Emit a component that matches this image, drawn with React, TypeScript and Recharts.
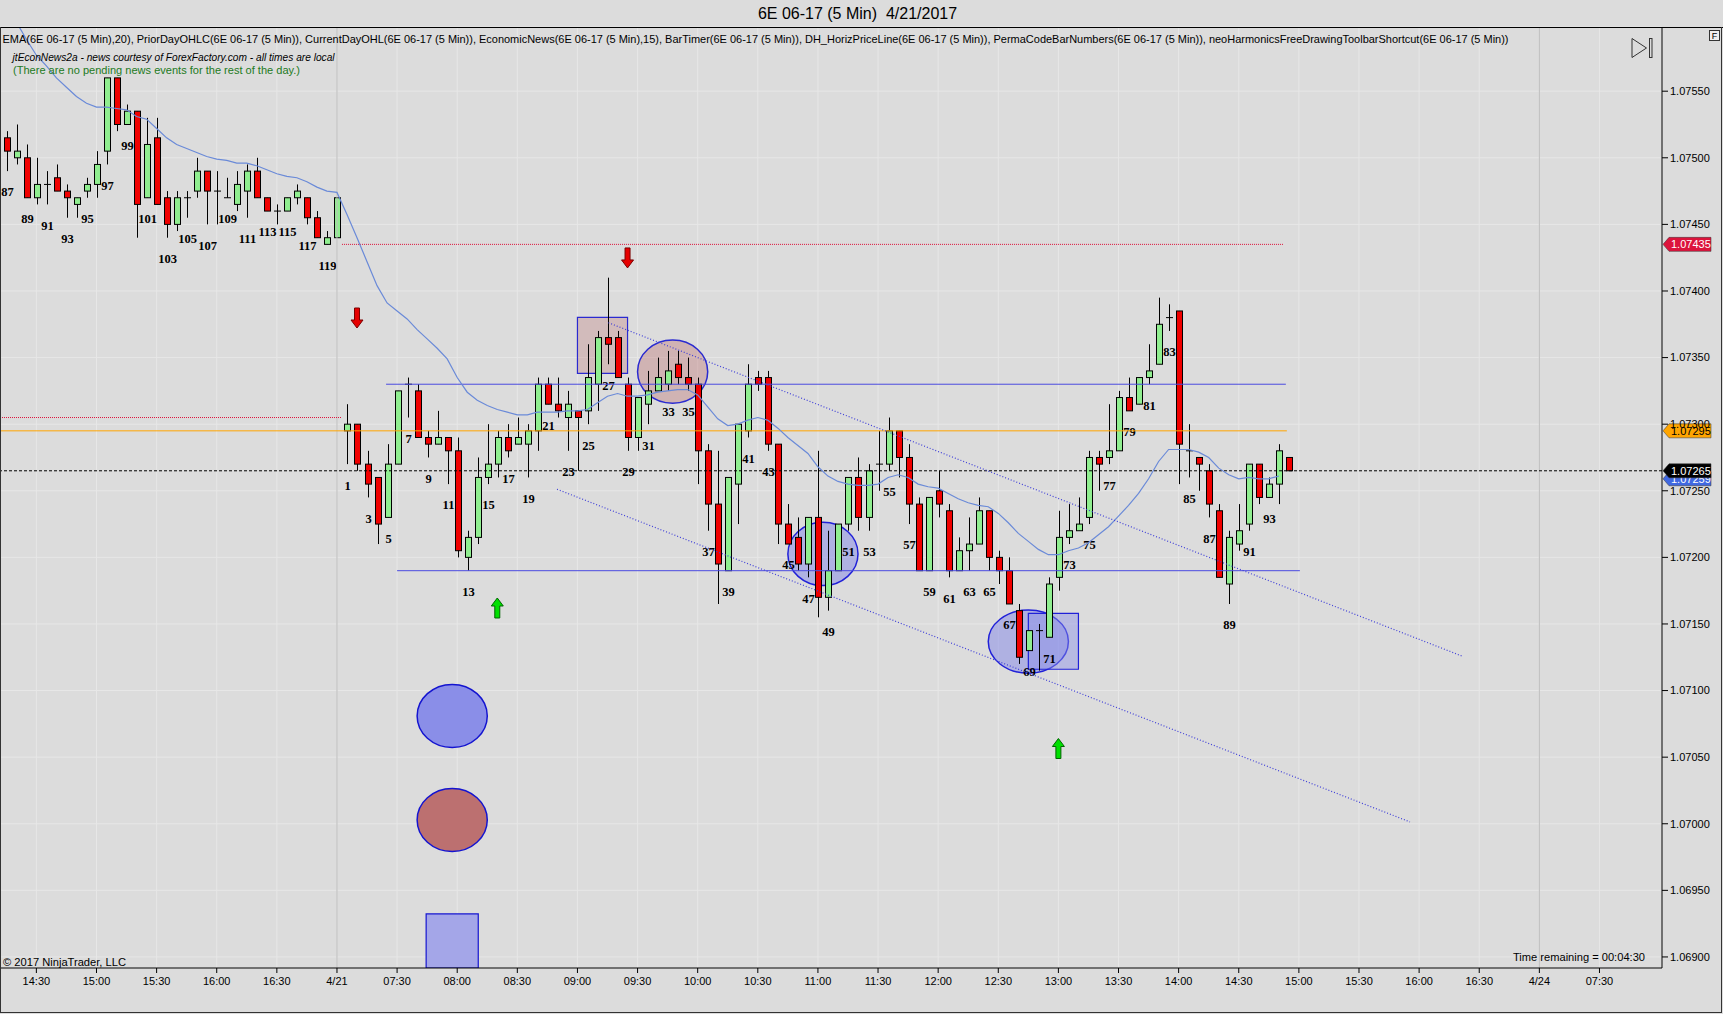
import React from 'react';
import {
  ComposedChart, Bar, Line, XAxis, YAxis, CartesianGrid,
  ReferenceLine, ReferenceArea, ReferenceDot,
} from 'recharts';

// ---------- bar numbers (prior session 87..120, then 4/21 session 1..95) ----------
const barNumbers = [
  87, 88, 89, 90, 91, 92, 93, 94, 95, 96, 97, 98, 99, 100, 101, 102, 103, 104, 105, 106,
  107, 108, 109, 110, 111, 112, 113, 114, 115, 116, 117, 118, 119, 120,
  1, 2, 3, 4, 5, 6, 7, 8, 9, 10, 11, 12, 13, 14, 15, 16, 17, 18, 19, 20,
  21, 22, 23, 24, 25, 26, 27, 28, 29, 30, 31, 32, 33, 34, 35, 36, 37, 38, 39, 40,
  41, 42, 43, 44, 45, 46, 47, 48, 49, 50, 51, 52, 53, 54, 55, 56, 57, 58, 59, 60,
  61, 62, 63, 64, 65, 66, 67, 68, 69, 70, 71, 72, 73, 74, 75, 76, 77, 78, 79, 80,
  81, 82, 83, 84, 85, 86, 87, 88, 89, 90, 91, 92, 93, 94, 95,
];

const opens = [
  1.07515, 1.07500, 1.07500, 1.07470, 1.07480, 1.07485, 1.07475, 1.07465, 1.07475, 1.07480,
  1.07505, 1.07560, 1.07525, 1.07535, 1.07470, 1.07515, 1.07470, 1.07450, 1.07470, 1.07475,
  1.07490, 1.07475, 1.07470, 1.07465, 1.07475, 1.07490, 1.07470, 1.07460, 1.07460, 1.07470,
  1.07470, 1.07455, 1.07435, 1.07440,
  1.07295, 1.07300, 1.07270, 1.07260, 1.07230, 1.07270, 1.07330, 1.07325, 1.07290, 1.07285,
  1.07290, 1.07280, 1.07200, 1.07215, 1.07260, 1.07270, 1.07290, 1.07285, 1.07285, 1.07295,
  1.07330, 1.07315, 1.07305, 1.07310, 1.07310, 1.07330, 1.07365, 1.07365, 1.07330, 1.07290,
  1.07315, 1.07325, 1.07330, 1.07345, 1.07335, 1.07330, 1.07280, 1.07240, 1.07190, 1.07255,
  1.07295, 1.07335, 1.07335, 1.07285, 1.07225, 1.07215, 1.07195, 1.07230, 1.07170, 1.07190,
  1.07225, 1.07260, 1.07230, 1.07270, 1.07270, 1.07295, 1.07275, 1.07240, 1.07190, 1.07250,
  1.07235, 1.07190, 1.07205, 1.07210, 1.07235, 1.07200, 1.07190, 1.07160, 1.07130, 1.07145,
  1.07140, 1.07185, 1.07215, 1.07220, 1.07230, 1.07275, 1.07275, 1.07280, 1.07320, 1.07315,
  1.07335, 1.07345, 1.07380, 1.07385, 1.07280, 1.07275, 1.07265, 1.07235, 1.07180, 1.07210,
  1.07225, 1.07270, 1.07245, 1.07255, 1.07275,
];

const highs = [
  1.07520, 1.07525, 1.07510, 1.07500, 1.07490, 1.07495, 1.07480, 1.07470, 1.07485, 1.07505,
  1.07560, 1.07560, 1.07540, 1.07535, 1.07530, 1.07530, 1.07475, 1.07475, 1.07475, 1.07500,
  1.07490, 1.07490, 1.07485, 1.07490, 1.07495, 1.07500, 1.07470, 1.07465, 1.07470, 1.07480,
  1.07470, 1.07460, 1.07445, 1.07470,
  1.07315, 1.07300, 1.07280, 1.07260, 1.07285, 1.07325, 1.07335, 1.07330, 1.07295, 1.07310,
  1.07290, 1.07290, 1.07220, 1.07275, 1.07300, 1.07295, 1.07300, 1.07305, 1.07300, 1.07335,
  1.07335, 1.07335, 1.07325, 1.07310, 1.07360, 1.07370, 1.07410, 1.07370, 1.07335, 1.07320,
  1.07340, 1.07350, 1.07355, 1.07355, 1.07350, 1.07335, 1.07285, 1.07280, 1.07260, 1.07300,
  1.07345, 1.07340, 1.07340, 1.07285, 1.07240, 1.07230, 1.07230, 1.07280, 1.07220, 1.07225,
  1.07260, 1.07275, 1.07270, 1.07295, 1.07305, 1.07295, 1.07285, 1.07245, 1.07245, 1.07265,
  1.07240, 1.07215, 1.07230, 1.07245, 1.07235, 1.07205, 1.07200, 1.07165, 1.07145, 1.07150,
  1.07185, 1.07235, 1.07240, 1.07245, 1.07280, 1.07280, 1.07315, 1.07325, 1.07335, 1.07335,
  1.07360, 1.07395, 1.07390, 1.07385, 1.07300, 1.07275, 1.07270, 1.07240, 1.07220, 1.07240,
  1.07270, 1.07270, 1.07260, 1.07285, 1.07275,
];

const lows = [
  1.07490, 1.07495, 1.07470, 1.07465, 1.07465, 1.07475, 1.07455, 1.07455, 1.07470, 1.07470,
  1.07495, 1.07520, 1.07525, 1.07440, 1.07470, 1.07465, 1.07440, 1.07445, 1.07455, 1.07470,
  1.07450, 1.07450, 1.07470, 1.07460, 1.07455, 1.07470, 1.07460, 1.07450, 1.07460, 1.07465,
  1.07450, 1.07440, 1.07435, 1.07440,
  1.07270, 1.07265, 1.07245, 1.07210, 1.07230, 1.07270, 1.07305, 1.07290, 1.07275, 1.07285,
  1.07255, 1.07200, 1.07190, 1.07210, 1.07255, 1.07260, 1.07275, 1.07285, 1.07260, 1.07280,
  1.07315, 1.07305, 1.07280, 1.07265, 1.07300, 1.07310, 1.07345, 1.07335, 1.07280, 1.07280,
  1.07300, 1.07325, 1.07325, 1.07330, 1.07325, 1.07255, 1.07220, 1.07165, 1.07190, 1.07225,
  1.07290, 1.07325, 1.07280, 1.07210, 1.07210, 1.07190, 1.07185, 1.07155, 1.07160, 1.07190,
  1.07220, 1.07220, 1.07220, 1.07250, 1.07265, 1.07260, 1.07225, 1.07190, 1.07190, 1.07230,
  1.07185, 1.07190, 1.07190, 1.07210, 1.07190, 1.07180, 1.07165, 1.07120, 1.07130, 1.07115,
  1.07140, 1.07175, 1.07210, 1.07220, 1.07225, 1.07250, 1.07270, 1.07280, 1.07310, 1.07315,
  1.07330, 1.07345, 1.07370, 1.07255, 1.07260, 1.07250, 1.07230, 1.07185, 1.07165, 1.07205,
  1.07220, 1.07240, 1.07245, 1.07240, 1.07265,
];

const closes = [
  1.07505, 1.07505, 1.07470, 1.07480, 1.07480, 1.07475, 1.07470, 1.07470, 1.07480, 1.07495,
  1.07560, 1.07525, 1.07535, 1.07465, 1.07510, 1.07465, 1.07450, 1.07470, 1.07470, 1.07490,
  1.07475, 1.07475, 1.07470, 1.07480, 1.07490, 1.07470, 1.07460, 1.07460, 1.07470, 1.07475,
  1.07455, 1.07440, 1.07440, 1.07470,
  1.07300, 1.07270, 1.07255, 1.07225, 1.07270, 1.07325, 1.07330, 1.07290, 1.07285, 1.07290,
  1.07280, 1.07205, 1.07215, 1.07260, 1.07270, 1.07290, 1.07280, 1.07290, 1.07295, 1.07330,
  1.07315, 1.07310, 1.07315, 1.07305, 1.07335, 1.07365, 1.07360, 1.07335, 1.07290, 1.07320,
  1.07325, 1.07335, 1.07340, 1.07335, 1.07330, 1.07280, 1.07240, 1.07195, 1.07260, 1.07300,
  1.07330, 1.07330, 1.07285, 1.07225, 1.07210, 1.07195, 1.07230, 1.07170, 1.07190, 1.07225,
  1.07260, 1.07230, 1.07265, 1.07270, 1.07295, 1.07275, 1.07240, 1.07190, 1.07245, 1.07240,
  1.07190, 1.07205, 1.07210, 1.07235, 1.07200, 1.07190, 1.07165, 1.07125, 1.07145, 1.07145,
  1.07180, 1.07215, 1.07220, 1.07225, 1.07275, 1.07270, 1.07280, 1.07320, 1.07310, 1.07335,
  1.07340, 1.07375, 1.07380, 1.07285, 1.07280, 1.07270, 1.07240, 1.07185, 1.07215, 1.07220,
  1.07270, 1.07245, 1.07255, 1.07280, 1.07265,
];

// EMA(20)
const ema20 = [
  1.07610, 1.07602, 1.07589, 1.07577, 1.07569, 1.07560, 1.07553, 1.07546, 1.07541, 1.07538,
  1.07538, 1.07537, 1.07536, 1.07531, 1.07529, 1.07522, 1.07515, 1.07510, 1.07507, 1.07504,
  1.07501, 1.07499, 1.07498, 1.07496, 1.07496, 1.07494, 1.07491, 1.07488, 1.07486, 1.07485,
  1.07482, 1.07478, 1.07475, 1.07474,
  1.074575, 1.07440, 1.07422, 1.07404, 1.07391, 1.07385, 1.07379, 1.07371, 1.07364, 1.07357,
  1.07349, 1.07335, 1.07324, 1.07318, 1.07314, 1.07311, 1.07309, 1.07307, 1.07307, 1.07309,
  1.07309, 1.07309, 1.07310, 1.07310, 1.07311, 1.07316, 1.07321, 1.07323, 1.07321, 1.07321,
  1.07322, 1.07324, 1.07325, 1.07326, 1.07326, 1.07322, 1.07313, 1.07304, 1.07299, 1.07300,
  1.07303, 1.07305, 1.07303, 1.07297, 1.07290, 1.07284, 1.07278, 1.07268, 1.07261, 1.07257,
  1.07255, 1.07254, 1.07254, 1.07255, 1.07260, 1.07262, 1.07260, 1.07255, 1.07253, 1.07252,
  1.07248, 1.07244, 1.07241, 1.07239, 1.07238, 1.07233, 1.07226, 1.07218, 1.07212, 1.07206,
  1.07202, 1.07202, 1.07205, 1.07207, 1.07211, 1.07217, 1.07223, 1.07231, 1.07239, 1.07248,
  1.07259, 1.07272, 1.07281, 1.07281, 1.07281, 1.07279, 1.07275, 1.07267, 1.07262, 1.07259,
  1.07260, 1.07259, 1.07259, 1.07261, null,
];

// ---------- axes ----------
const timeTickSlots = [3, 9, 15, 21, 27, 33, 39, 45, 51, 57, 63, 69, 75, 81, 87, 93, 99, 105, 111, 117, 123, 129, 135, 141, 147, 153, 159];
const timeTickLabels = ['14:30', '15:00', '15:30', '16:00', '16:30', '4/21', '07:30', '08:00', '08:30', '09:00', '09:30', '10:00', '10:30', '11:00', '11:30', '12:00', '12:30', '13:00', '13:30', '14:00', '14:30', '15:00', '15:30', '16:00', '16:30', '4/24', '07:30'];
const priceTicks = [1.069, 1.0695, 1.07, 1.0705, 1.071, 1.0715, 1.072, 1.0725, 1.073, 1.0735, 1.074, 1.0745, 1.075, 1.0755];
const sessionBreakSlots = [33, 153];

const X_DOMAIN = [-0.63, 165.24];
const Y_DOMAIN = [1.068917, 1.075982];

// ---------- drawing objects (data coordinates) ----------
const priorLevels = [1.07435, 1.07305];        // red dotted
const priorLevelSpans = [[33.5, 127.5], [-0.63, 33.5]];
const openLevel = 1.07295;                      // orange
const openLevelSpan = [-0.63, 127.8];
const lastPrice = 1.07265;                      // black dashed
const emaLast = 1.07259;
const horizPrices = [1.07330, 1.07190];         // DH horizontal lines
const horizSpans = [[37.9, 127.7], [39.0, 129.1]];
const trendStarts = [[60.08, 1.073762], [54.96, 1.0725115]];
const trendEnds = [[145.24, 1.07126], [140.09, 1.0700135]];

const roseRects = [[57, 62, 1.073382, 1.0738025]];
const roseEllipses = [[63, 70, 1.073157, 1.073632]];
const blueEllipses = [[78, 85, 1.071788, 1.072264], [98, 106, 1.07113, 1.071605]];
const blueRects = [[102, 107, 1.07116, 1.07158]];
const toolEllipseBlue = [41, 48, 1.070573, 1.071046];
const toolEllipseRose = [41, 48, 1.069792, 1.070265];
const toolRect = [41.9, 47.1, 1.068917, 1.069323];

const arrowSlots = [35, 62, 49, 105];
const arrowPrices = [1.073722, 1.074173, 1.071695, 1.07064];
const arrowDirs = ['down', 'down', 'up', 'up'];

const rows = barNumbers.map((num, i) => ({
  slot: i,
  num,
  o: opens[i],
  h: highs[i],
  l: lows[i],
  c: closes[i],
  range: [lows[i], highs[i]],
  ema: ema20[i],
}));
const lastSlot = rows.length - 1;
const tickLabelOf: Record<number, string> = {};
timeTickSlots.forEach((s, i) => { tickLabelOf[s] = timeTickLabels[i]; });

const FONT = 'Liberation Sans, Arial, sans-serif';

const Candle = (props: any) => {
  const { x, y, width, height, payload } = props;
  if (!payload) return null;
  const { o, h, l, c, num, slot } = payload;
  const cx = Math.round(x + width / 2) + 0.5;
  const py = (v: number) => (h === l ? y : y + ((h - v) / (h - l)) * height);
  const top = py(Math.max(o, c));
  const bot = py(Math.min(o, c));
  const up = c > o;
  const flat = c === o;
  const lowY = y + height;
  return (
    <g>
      <line x1={cx} x2={cx} y1={y} y2={lowY} stroke="#000" strokeWidth={1} />
      {flat ? (
        <line x1={cx - 3.5} x2={cx + 3.5} y1={top} y2={top} stroke="#000" strokeWidth={1} />
      ) : (
        <rect x={cx - 3} y={top} width={6} height={Math.max(bot - top, 1)}
          fill={up ? '#90ee90' : '#f00000'} stroke="#000" strokeWidth={1} />
      )}
      {num % 2 === 1 && slot !== lastSlot && (
        <text x={cx} y={lowY + 21} dy="0.35em" textAnchor="middle"
          fontFamily="Liberation Serif, Times New Roman, serif" fontWeight="bold" fontSize={12.5} fill="#000">
          {num}
        </text>
      )}
    </g>
  );
};

const ellipseShape = (p: any) => (
  <ellipse cx={p.x + p.width / 2} cy={p.y + p.height / 2} rx={p.width / 2} ry={p.height / 2}
    fill={p.fill} fillOpacity={p.fillOpacity} stroke={p.stroke} strokeWidth={p.strokeWidth} />
);

const arrowShape = (dir: string) => (p: any) => {
  const { cx, cy } = p;
  const sgn = dir === 'down' ? -1 : 1;
  const pts = [[-2.5, 20], [2.5, 20], [2.5, 8], [6, 8], [0, 0], [-6, 8], [-2.5, 8]]
    .map(([dx, dy]) => `${cx + dx},${cy + sgn * dy}`).join(' ');
  const red = dir === 'down';
  return <polygon points={pts} fill={red ? '#e60000' : '#00e000'} stroke={red ? '#7a0000' : '#006400'} strokeWidth={1} />;
};

const tagShape = (fill: string, color: string, price: number) => (p: any) => {
  const { cx, cy } = p;
  const x0 = cx;
  return (
    <g>
      <polygon
        points={`${x0 + 1},${cy} ${x0 + 7},${cy - 7} ${x0 + 49},${cy - 7} ${x0 + 49},${cy + 7} ${x0 + 7},${cy + 7}`}
        fill={fill} stroke="#333" strokeWidth={0.5} />
      <text x={x0 + 9} y={cy + 4} fontSize={11} fill={color} fontFamily={FONT}>{price.toFixed(5)}</text>
    </g>
  );
};

export default function App() {
  return (
    <div style={{ position: 'absolute', left: 0, top: 0, width: 1723, height: 1014, background: '#dcdcdc', overflow: 'hidden', fontFamily: FONT }}>
      <ComposedChart width={1723} height={1014} data={rows} margin={{ top: 27, right: 0, bottom: 0, left: 0 }}>
        <CartesianGrid stroke="#e7e7e7" strokeWidth={1} />
        <XAxis dataKey="slot" type="number" domain={X_DOMAIN} allowDataOverflow ticks={timeTickSlots} interval={0}
          tickFormatter={(v: number) => tickLabelOf[v] ?? ''} height={46} tickSize={5} tickMargin={4}
          axisLine={{ stroke: '#000' }} tickLine={{ stroke: '#000' }} tick={{ fontSize: 11, fill: '#000' }} />
        <YAxis orientation="right" type="number" domain={Y_DOMAIN} allowDataOverflow ticks={priceTicks} interval={0}
          tickFormatter={(v: number) => v.toFixed(5)} width={61} tickSize={6} tickMargin={2}
          axisLine={{ stroke: '#000' }} tickLine={{ stroke: '#000' }} tick={{ fontSize: 11, fill: '#000' }} />

        {sessionBreakSlots.map((s) => (
          <ReferenceLine key={'sb' + s} x={s} stroke="#bdbdbd" strokeWidth={1} ifOverflow="hidden" />
        ))}
        {priorLevels.map((p, i) => (
          <ReferenceLine key={'pl' + i} segment={[{ x: priorLevelSpans[i][0], y: p }, { x: priorLevelSpans[i][1], y: p }]}
            stroke="#dc143c" strokeWidth={1} strokeDasharray="1 1" ifOverflow="hidden" />
        ))}
        <ReferenceLine segment={[{ x: openLevelSpan[0], y: openLevel }, { x: openLevelSpan[1], y: openLevel }]}
          stroke="#ffa500" strokeWidth={1} ifOverflow="hidden" />
        {horizPrices.map((p, i) => (
          <ReferenceLine key={'hp' + i} segment={[{ x: horizSpans[i][0], y: p }, { x: horizSpans[i][1], y: p }]}
            stroke="#4b4be0" strokeWidth={1} ifOverflow="hidden" />
        ))}
        <ReferenceLine y={lastPrice} stroke="#000" strokeWidth={1} strokeDasharray="3 2" ifOverflow="hidden" />

        <Bar dataKey="range" barSize={7} shape={<Candle />} isAnimationActive={false} />
        <Line dataKey="ema" type="linear" stroke="#6a8ad8" strokeWidth={1.2} dot={false} activeDot={false}
          isAnimationActive={false} connectNulls={false} />

        {roseRects.map((r, i) => (
          <ReferenceArea key={'rr' + i} x1={r[0]} x2={r[1]} y1={r[2]} y2={r[3]} ifOverflow="hidden"
            fill="#bc7070" fillOpacity={0.3} stroke="#2a2ad0" strokeWidth={1.2} />
        ))}
        {roseEllipses.map((r, i) => (
          <ReferenceArea key={'re' + i} x1={r[0]} x2={r[1]} y1={r[2]} y2={r[3]} ifOverflow="hidden"
            fill="#bc7070" fillOpacity={0.38} stroke="#2a2ad0" strokeWidth={1.5} shape={ellipseShape} />
        ))}
        {blueEllipses.map((r, i) => (
          <ReferenceArea key={'be' + i} x1={r[0]} x2={r[1]} y1={r[2]} y2={r[3]} ifOverflow="hidden"
            fill="#8a8ee8" fillOpacity={0.55} stroke="#2020d8" strokeWidth={1.5} shape={ellipseShape} />
        ))}
        {blueRects.map((r, i) => (
          <ReferenceArea key={'br' + i} x1={r[0]} x2={r[1]} y1={r[2]} y2={r[3]} ifOverflow="hidden"
            fill="#8a8ee8" fillOpacity={0.45} stroke="#2020d8" strokeWidth={1.2} />
        ))}
        <ReferenceArea x1={toolEllipseBlue[0]} x2={toolEllipseBlue[1]} y1={toolEllipseBlue[2]} y2={toolEllipseBlue[3]}
          ifOverflow="hidden" fill="#8a8ee8" fillOpacity={1} stroke="#1414d0" strokeWidth={1.5} shape={ellipseShape} />
        <ReferenceArea x1={toolEllipseRose[0]} x2={toolEllipseRose[1]} y1={toolEllipseRose[2]} y2={toolEllipseRose[3]}
          ifOverflow="hidden" fill="#bc7070" fillOpacity={1} stroke="#1414d0" strokeWidth={1.5} shape={ellipseShape} />
        <ReferenceArea x1={toolRect[0]} x2={toolRect[1]} y1={toolRect[2]} y2={toolRect[3]}
          ifOverflow="hidden" fill="#a4a6e8" fillOpacity={1} stroke="#1414d0" strokeWidth={1.2} />

        {trendStarts.map((s, i) => (
          <ReferenceLine key={'tl' + i} segment={[{ x: s[0], y: s[1] }, { x: trendEnds[i][0], y: trendEnds[i][1] }]}
            stroke="#3e3ed8" strokeWidth={1.2} strokeDasharray="1 2" ifOverflow="hidden" />
        ))}
        {arrowSlots.map((s, i) => (
          <ReferenceDot key={'ar' + i} x={s} y={arrowPrices[i]} r={1} ifOverflow="visible" shape={arrowShape(arrowDirs[i])} />
        ))}

        <ReferenceDot x={X_DOMAIN[1]} y={priorLevels[0]} r={1} ifOverflow="visible" shape={tagShape('#dc143c', '#fff', priorLevels[0])} />
        <ReferenceDot x={X_DOMAIN[1]} y={openLevel} r={1} ifOverflow="visible" shape={tagShape('#ffa500', '#000', openLevel)} />
        <ReferenceDot x={X_DOMAIN[1]} y={emaLast} r={1} ifOverflow="visible" shape={tagShape('#4169e1', '#fff', emaLast)} />
        <ReferenceDot x={X_DOMAIN[1]} y={lastPrice} r={1} ifOverflow="visible" shape={tagShape('#000', '#fff', lastPrice)} />
      </ComposedChart>

      <svg width={1723} height={1014} style={{ position: 'absolute', left: 0, top: 0, pointerEvents: 'none' }} fontFamily={FONT}>
        <text x={857.5} y={18.5} textAnchor="middle" fontSize={16} fill="#000" style={{ whiteSpace: 'pre' }}>6E 06-17 (5 Min)  4/21/2017</text>
        <line x1={0} y1={27.5} x2={1723} y2={27.5} stroke="#000" strokeWidth={1} />
        <line x1={0.5} y1={27} x2={0.5} y2={1013} stroke="#333" strokeWidth={1} />
        <line x1={1721.5} y1={27} x2={1721.5} y2={1013} stroke="#333" strokeWidth={1} />
        <line x1={0} y1={1012.5} x2={1722} y2={1012.5} stroke="#333" strokeWidth={1} />
        <text x={2.5} y={43} fontSize={11} fill="#000" textLength={1506} lengthAdjust="spacingAndGlyphs">
          EMA(6E 06-17 (5 Min),20), PriorDayOHLC(6E 06-17 (5 Min)), CurrentDayOHL(6E 06-17 (5 Min)), EconomicNews(6E 06-17 (5 Min),15), BarTimer(6E 06-17 (5 Min)), DH_HorizPriceLine(6E 06-17 (5 Min)), PermaCodeBarNumbers(6E 06-17 (5 Min)), neoHarmonicsFreeDrawingToolbarShortcut(6E 06-17 (5 Min))
        </text>
        <text x={12.6} y={61} fontSize={10} fontStyle="italic" fill="#000" textLength={322} lengthAdjust="spacingAndGlyphs">
          jtEconNews2a - news courtesy of ForexFactory.com - all times are local
        </text>
        <text x={13} y={74} fontSize={10.5} fill="#227a22" textLength={287} lengthAdjust="spacingAndGlyphs">
          (There are no pending news events for the rest of the day.)
        </text>
        <text x={3} y={966} fontSize={11} fill="#000" textLength={123} lengthAdjust="spacingAndGlyphs">© 2017 NinjaTrader, LLC</text>
        <text x={1513} y={961} fontSize={11} fill="#000" textLength={132} lengthAdjust="spacingAndGlyphs">Time remaining = 00:04:30</text>
        <polygon points="1632,38.5 1646.5,48 1632,57.5" fill="none" stroke="#333" strokeWidth={1} />
        <rect x={1649.5} y={38.5} width={2.5} height={19} fill="none" stroke="#333" strokeWidth={1} />
        <rect x={1709.5} y={30.5} width={10} height={10} fill="#eeeeee" stroke="#333" strokeWidth={1} />
        <text x={1714.5} y={39} fontSize={9} textAnchor="middle" fill="#000">F</text>
      </svg>
    </div>
  );
}
